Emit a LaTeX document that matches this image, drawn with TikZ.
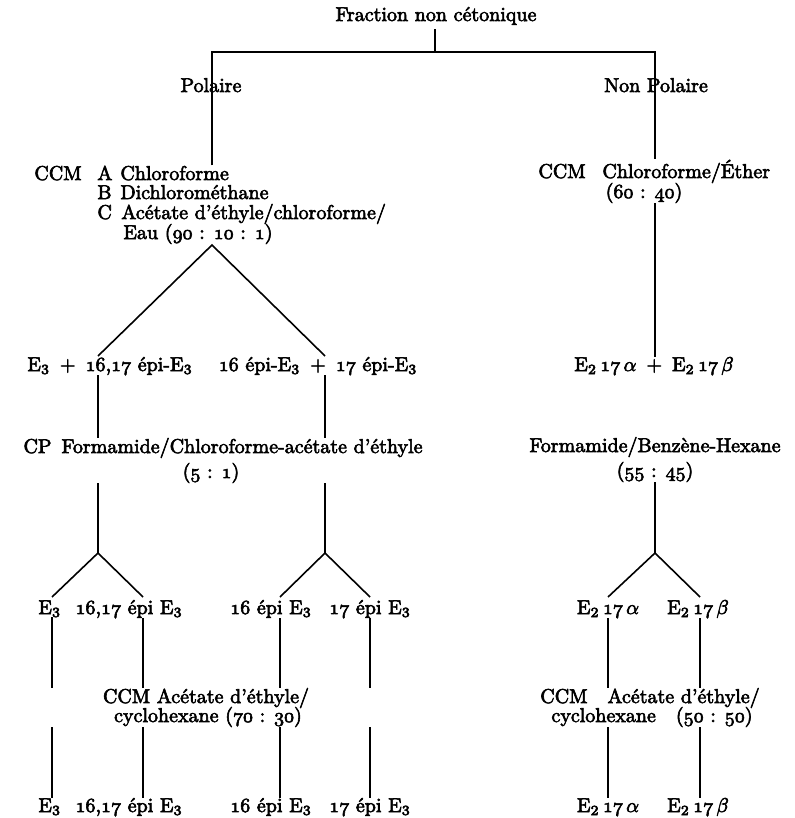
\documentclass[tikz,border=0pt]{standalone}
\newcommand\osn[1]{{\usefont{OML}{lmm}{m}{it}#1}}
\newcommand\Ethree{E$_3$}
\newcommand\Etwo{E$_2$}
\newcommand\heavyon{\special{pdf:literal direct 2 Tr 0.3 w}}
\newcommand\heavyoff{\special{pdf:literal direct 0 Tr}}
\begin{document}
\begin{tikzpicture}[x=0.5pt,y=-0.5pt,
  every node/.style={inner sep=0pt,font=\fontsize{10}{10}\selectfont,
    execute at begin node=\heavyon, execute at end node=\heavyoff},
  lab/.style={anchor=base},
  labw/.style={anchor=base west},
  ln/.style={line width=0.8pt}]
\useasboundingbox (0,0) rectangle (794,818);

% ---------- texts ----------
\node[lab] (title) at (436,21) {Fraction non cétonique};
\node[lab] (pol) at (211,92) {Polaire};
\node[lab] (npol) at (656,92) {Non Polaire};

\node[labw] (ccmL) at (34,180) {CCM};
\node[labw] (lA) at (97,180) {A};
\node[labw] (sA) at (120,180) {Chloroforme};
\node[labw] (lB) at (97,199) {B};
\node[labw] (sB) at (120,199) {Dichlorométhane};
\node[labw] (lC) at (97,219) {C};
\node[labw] (sC) at (121,219) {Acétate d'éthyle/chloroforme/};
\node[labw] (sD) at (123,239) {Eau (\osn{90} : \osn{10} : \osn{1})};

\node[labw] (ccmR) at (538,178) {CCM};
\node[labw] (sR) at (602,178) {Chloroforme/Éther};
\node[lab] (rR) at (644,198) {(\osn{60} : \osn{40})};

\node[lab] (eL) at (110,371) {\Ethree\enspace+\enspace\osn{16},\osn{17} épi-\Ethree};
\node[lab] (eR) at (318,371) {\osn{16} épi-\Ethree\enspace+\enspace\osn{17} épi-\Ethree};
\node[lab] (e2) at (654,371) {\Etwo\,\osn{17}\,$\alpha$\enspace+\enspace\Etwo\,\osn{17}\,$\beta$};

\node[lab] (cp) at (223,453) {CP\enspace Formamide/Chloroforme-acétate d'éthyle};
\node[lab] (cpr) at (211,478) {(\osn{5} : \osn{1})};
\node[lab] (fb) at (655,452) {Formamide/Benzène-Hexane};
\node[lab] (fbr) at (655,477) {(\osn{55} : \osn{45})};

\node[labw] (a1) at (38,614) {\Ethree};
\node[lab] (a2) at (129,614) {\osn{16},\osn{17} épi \Ethree};
\node[lab] (a3) at (271,614) {\osn{16} épi \Ethree};
\node[lab] (a4) at (370,614) {\osn{17} épi \Ethree};
\node[lab] (b1) at (608,614) {\Etwo\,\osn{17}\,$\alpha$};
\node[lab] (b2) at (698,614) {\Etwo\,\osn{17}\,$\beta$};

\node[lab] (m1) at (206,703) {CCM Acétate d'éthyle/};
\node[lab] (m2) at (208,722) {cyclohexane (\osn{70} : \osn{30})};
\node[lab] (n1) at (650,703) {CCM\quad Acétate d'éthyle/};
\node[lab] (n2) at (652,722) {cyclohexane\quad (\osn{50} : \osn{50})};

\node[labw] (c1) at (38,812) {\Ethree};
\node[lab] (c2) at (129,812) {\osn{16},\osn{17} épi \Ethree};
\node[lab] (c3) at (271,812) {\osn{16} épi \Ethree};
\node[lab] (c4) at (370,812) {\osn{17} épi \Ethree};
\node[lab] (d1) at (608,812) {\Etwo\,\osn{17}\,$\alpha$};
\node[lab] (d2) at (698,812) {\Etwo\,\osn{17}\,$\beta$};

% ---------- junctions ----------
\coordinate (jT) at (435,52);
\coordinate (jL) at (212,52);
\coordinate (jR) at (655,52);
\coordinate (fA) at (212,245);
\coordinate (fA1) at (98,356);
\coordinate (fA2) at (325,356);
\coordinate (fB) at (98,553);
\coordinate (fB1) at (52,597);
\coordinate (fB2) at (143,597);
\coordinate (fC) at (325,553);
\coordinate (fC1) at (280,597);
\coordinate (fC2) at (370,597);
\coordinate (fD) at (655,553);
\coordinate (fD1) at (608,597);
\coordinate (fD2) at (700,597);

% ---------- connectors ----------
\draw[ln,shorten <=2pt] (title.south -| jT) -- (jT);
\draw[ln] (jL |- sA.north) -- (jL) -- (jR) -- (jR |- sR.north);
\draw[ln] (fA1) -- (fA) -- (fA2);
\draw[ln] (jR |- rR.south) -- (jR |- e2.north);

\draw[ln] (fA1 |- eL.south) -- (fA1 |- cp.north);
\draw[ln] (fA2 |- eR.south) -- (fA2 |- cp.north);
\draw[ln] (fB |- cpr.south) -- (fB);
\draw[ln] (fC |- cpr.south) -- (fC);
\draw[ln] (fB1) -- (fB) -- (fB2);
\draw[ln] (fC1) -- (fC) -- (fC2);

\draw[ln] (jR |- fbr.south) -- (fD);
\draw[ln] (fD1) -- (fD) -- (fD2);

\foreach \x/\t/\b in {fB1/a1/c1, fB2/a2/c2, fC1/a3/c3, fC2/a4/c4}{
  \draw[ln] (\x |- \t.south) -- (\x |- m1.north);
  \draw[ln] (\x |- m2.south) -- (\x |- \b.north);
}
\foreach \x/\t/\b in {fD1/b1/d1, fD2/b2/d2}{
  \draw[ln] (\x |- \t.south) -- (\x |- n1.north);
  \draw[ln] (\x |- n2.south) -- (\x |- \b.north);
}
\end{tikzpicture}
\end{document}
